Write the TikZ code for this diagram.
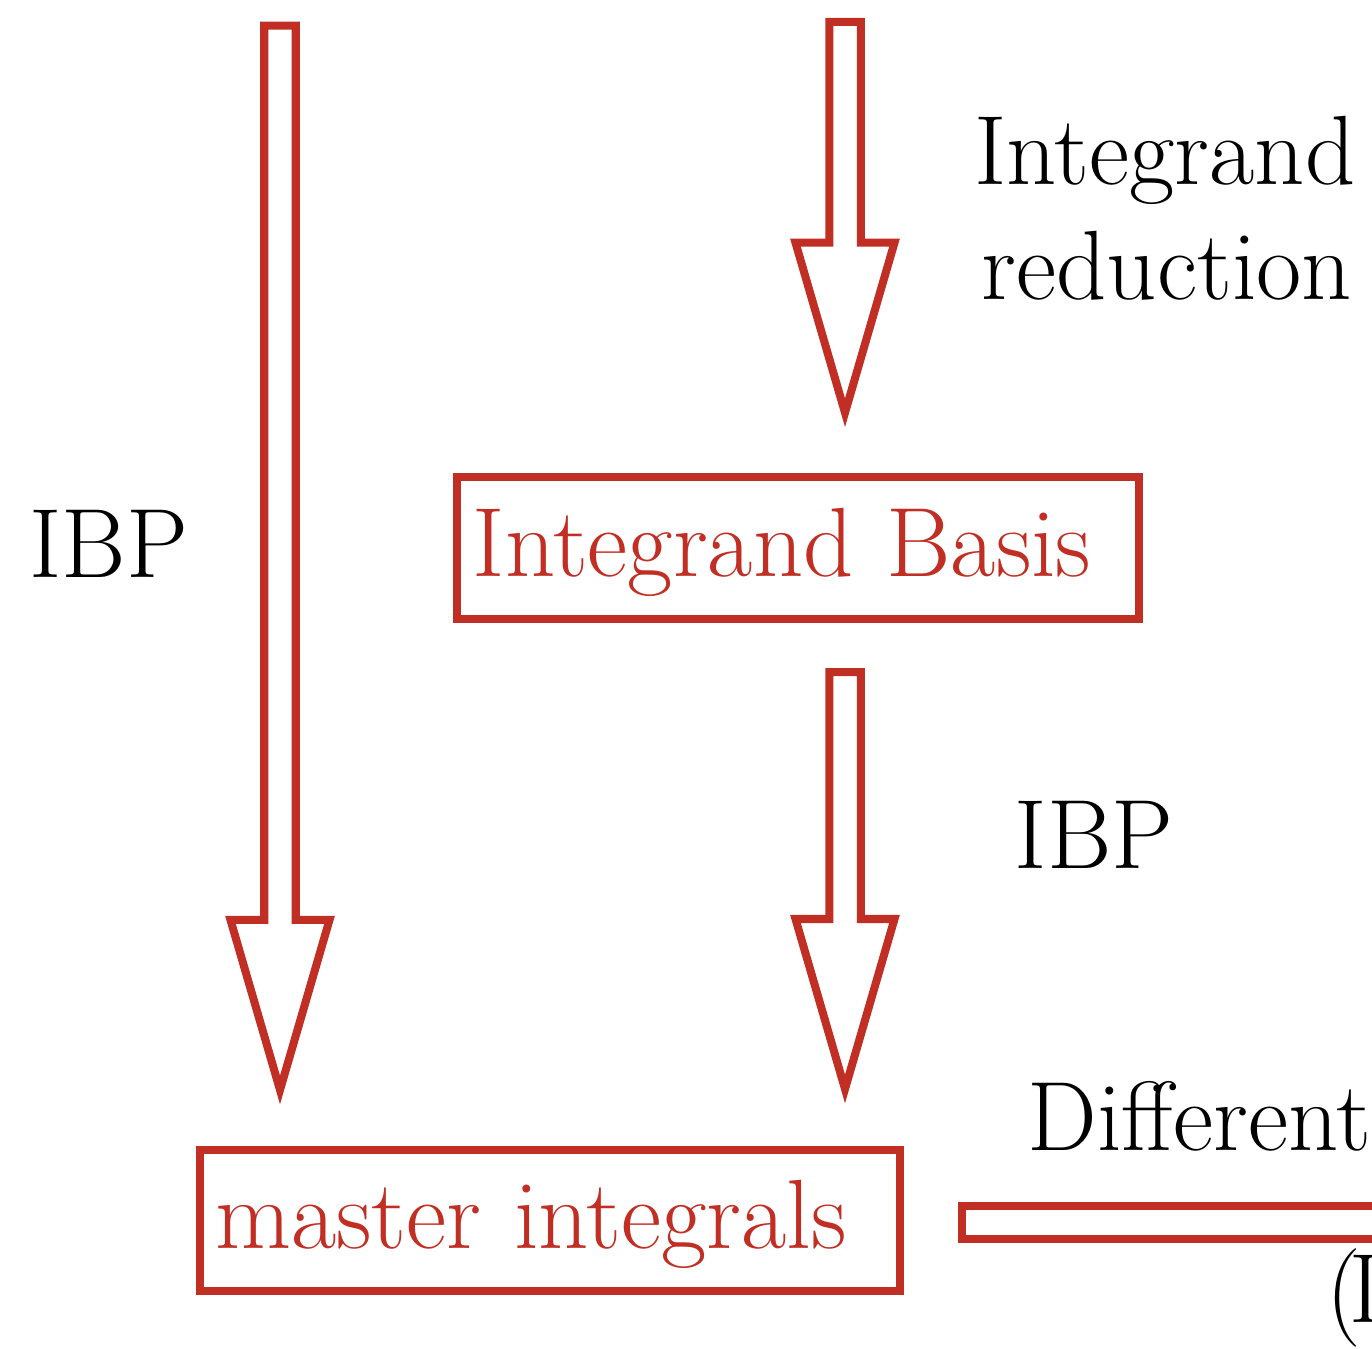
\documentclass[tikz,border=0pt]{standalone}
\usepackage{tikz}
\usetikzlibrary{positioning,calc}
\definecolor{flowred}{RGB}{193,46,36}
\newcommand{\flowfont}{\fontsize{28}{34}\selectfont}
\newcommand{\downblock}[2]{%
  \draw[blk] ($(#1)+(-15.75,0)$) -- ($(#1)+(15.75,0)$) -- ($(#2)+(15.75,-170)$)
    -- ($(#2)+(49.5,-170)$) -- (#2) -- ($(#2)+(-49.5,-170)$) -- ($(#2)+(-15.75,-170)$) -- cycle;}
\tikzset{
  blk/.style={draw=flowred, line width=0.08cm, fill=white},
  rbox/.style={draw=flowred, line width=0.08cm, text=flowred, font=\flowfont, align=left,
      inner xsep=0.155cm, inner ysep=0pt, text height=0.75cm, text depth=0.18cm},
  lab/.style={font=\flowfont, text=black, inner sep=0pt},
}

\begin{document}
\begin{tikzpicture}[x=0.01cm, y=-0.01cm]
\useasboundingbox (0,0) rectangle (1372,1349);
\clip (0,0) rectangle (1372,1349);
\node[rbox, text width=6.505cm, minimum height=1.423cm] (basis) at (798.3,547.7) {Integrand\ Basis};
\node[rbox, text width=6.69cm, minimum height=1.408cm] (master) at (550,1220.4) {master\ integrals};
\coordinate (ltop) at (280,25.7);
\coordinate (ltip) at ($(master.north)+(-270,-56)$);
\coordinate (mtop) at (845,22);
\coordinate (mtip) at ($(basis.north)+(46.7,-59.8)$);
\coordinate (btop) at ($(basis.south)+(46.7,49.2)$);
\coordinate (btip) at (845,1089);
\coordinate (destart) at ($(master.east)+(58,2.1)$);
\downblock{ltop}{ltip}
\downblock{mtop}{mtip}
\downblock{btop}{btip}
\draw[blk] ($(destart)+(0,-16.5)$) rectangle ($(destart)+(600,16.5)$);
\node[lab, anchor=base west] (ibpl) at (29,578) {IBP};
\node[lab, anchor=base] (redtop) at (1165,185) {Integrand};
\node[lab, anchor=base] (redbot) at (1167,300) {reduction};
\node[lab, anchor=base west] (ibpm) at (1014,868) {IBP};
\node[lab, anchor=base west] (diffl) at (1027,1150) {Differential};
\node[lab, anchor=base west] (parl) at (1326,1322) {(\kern-0.12em I};
\end{tikzpicture}
\end{document}
